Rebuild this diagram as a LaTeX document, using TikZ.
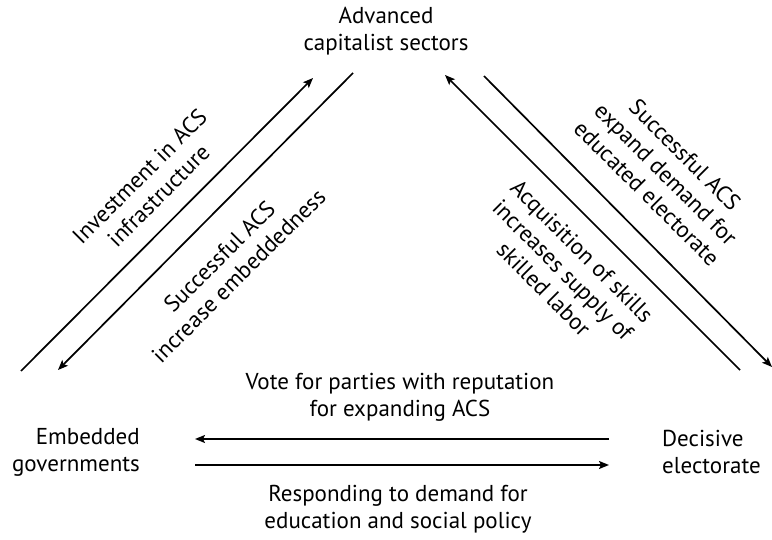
\documentclass[tikz,border=0pt]{standalone}
\usepackage{fontspec}
\setmainfont{PT Sans}
\usetikzlibrary{arrows.meta}
\begin{document}
\begin{tikzpicture}[x=1pt,y=-1pt,
  lbl/.style={font=\fontsize{23}{27}\selectfont, align=center, inner sep=0pt},
  conn/.style={line width=1.7pt, -{Stealth[length=10pt,width=8pt,inset=2pt]}}]
\useasboundingbox (0,0) rectangle (772,540);
\node[lbl] (acs) at (386,31) {Advanced\\capitalist sectors};
\node[lbl, align=right, anchor=east] (gov) at (140,452) {Embedded\\governments};
\node[lbl, align=left, anchor=west] (ele) at (662,452) {Decisive\\electorate};
% endpoints
\coordinate (a1) at (21,371); \coordinate (a2) at (313,78);
\coordinate (b1) at (353,73); \coordinate (b2) at (58,370);
\coordinate (c1) at (740,370); \coordinate (c2) at (445,75);
\coordinate (d1) at (484,76); \coordinate (d2) at (772,367);
\coordinate (e1) at (609,439); \coordinate (e2) at (195,439);
\coordinate (f1) at (195,465); \coordinate (f2) at (609,465);
\draw[conn] (a1) -- (a2);
\draw[conn] (b1) -- (b2);
\draw[conn] (c1) -- (c2);
\draw[conn] (d1) -- (d2);
\draw[conn] (e1) -- (e2);
\draw[conn] (f1) -- (f2);
% labels
\node[lbl, rotate=45] (l1) at (149,186) {Investment in ACS\\infrastructure};
\node[lbl, rotate=45] (l2) at (229,266) {Successful ACS\\increase embeddedness};
\node[lbl, rotate=-45] (l3) at (666,174) {Successful ACS\\expand demand for\\educated electorate};
\node[lbl, rotate=-45] (l4) at (563,270) {Acquisition of skills\\increases supply of\\skilled labor};
\node[lbl] (l5) at (400,397) {Vote for parties with reputation\\for expanding ACS};
\node[lbl] (l6) at (398,509) {Responding to demand for\\education and social policy};
\end{tikzpicture}
\end{document}
